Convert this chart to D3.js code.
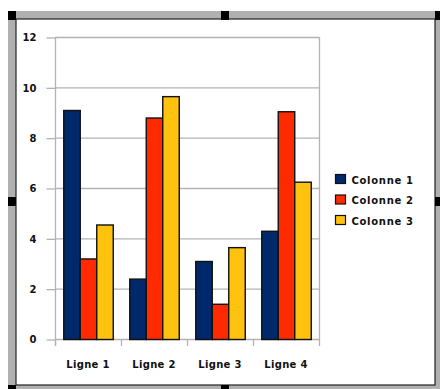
<!DOCTYPE html>
<html>
<head>
<meta charset="utf-8">
<script src="https://cdn.jsdelivr.net/npm/d3@7"></script>
<style>
  body { margin: 0; background: #fff; }
  svg text { font-family: "DejaVu Sans", sans-serif; }
</style>
</head>
<body>
<svg id="chart" width="440" height="389"></svg>
<script>
const categories = ["Ligne 1", "Ligne 2", "Ligne 3", "Ligne 4"];
const seriesNames = ["Colonne 1", "Colonne 2", "Colonne 3"];
const colonne1 = [9.1, 2.4, 3.1, 4.3];
const colonne2 = [3.2, 8.8, 1.4, 9.05];
const colonne3 = [4.55, 9.65, 3.65, 6.25];
const yTicks = [0, 2, 4, 6, 8, 10, 12];
const colors = ["#00296b", "#ff2a00", "#ffc20e"];

const seriesValues = [colonne1, colonne2, colonne3];

const svg = d3.select("#chart");

// frame (selection look)
svg.append("rect").attr("x", 8).attr("y", 11).attr("width", 440).attr("height", 385)
    .attr("fill", "#b0b0b0");
svg.append("rect").attr("x", 16).attr("y", 19).attr("width", 419).attr("height", 366)
    .attr("fill", "#fff").attr("stroke", "#222").attr("stroke-width", 1.2);
const handles = [[8, 11], [221, 11], [435, 11], [8, 197], [435, 197], [8, 385], [221, 385]];
svg.selectAll(".handle").data(handles).enter().append("rect")
    .attr("x", d => d[0]).attr("y", d => d[1])
    .attr("width", 8).attr("height", 9).attr("fill", "#000");

const x = d3.scaleBand().domain(categories).range([55, 319])
    .paddingInner(0.25).paddingOuter(0.125);
const xInner = d3.scaleBand().domain(seriesNames).range([0, x.bandwidth()]);
const y = d3.scaleLinear().domain([0, 12]).range([339, 37]);

// grid
svg.append("g").selectAll("line").data(yTicks).enter().append("line")
    .attr("x1", 55).attr("x2", 319)
    .attr("y1", d => y(d) + 0.5).attr("y2", d => y(d) + 0.5)
    .attr("stroke", "#b3b3b3").attr("stroke-width", 1.3);
svg.append("line").attr("x1", 319.5).attr("x2", 319.5).attr("y1", y(12)).attr("y2", y(0))
    .attr("stroke", "#b3b3b3").attr("stroke-width", 1.3);

// y axis
const yAxis = svg.append("g").attr("transform", "translate(55.5,0.5)")
    .call(d3.axisLeft(y).tickValues(yTicks).tickSize(9).tickPadding(10));
yAxis.selectAll("line, path").attr("stroke", "#b3b3b3").attr("stroke-width", 1.3);
yAxis.select(".domain").attr("d", `M0,${y(12)}V${y(0) + 6}`);
yAxis.selectAll("text").attr("font-size", 10).attr("font-weight", "bold").attr("fill", "#111");

// x axis ticks at category boundaries
svg.append("g").selectAll("line").data(d3.range(categories.length + 1)).enter().append("line")
    .attr("x1", i => (i < categories.length ? x(categories[i]) - x.step() * x.paddingInner() / 2 : 319) + 0.5)
    .attr("x2", i => (i < categories.length ? x(categories[i]) - x.step() * x.paddingInner() / 2 : 319) + 0.5)
    .attr("y1", y(0)).attr("y2", y(0) + 7)
    .attr("stroke", "#b3b3b3").attr("stroke-width", 1.3);

svg.append("g").selectAll("text").data(categories).enter().append("text")
    .attr("x", d => x(d) + x.bandwidth() / 2).attr("y", 368)
    .attr("text-anchor", "middle").attr("font-size", 10).attr("font-weight", "bold")
    .attr("letter-spacing", 0.3)
    .attr("fill", "#111").text(d => d);

// bars
seriesNames.forEach((s, si) => {
    svg.append("g").selectAll("rect").data(categories).enter().append("rect")
        .attr("x", (d) => x(d) + xInner(s) + 0.5)
        .attr("y", (d, i) => y(seriesValues[si][i]) + 0.5)
        .attr("width", xInner.bandwidth())
        .attr("height", (d, i) => y(0) - y(seriesValues[si][i]))
        .attr("fill", colors[si]).attr("stroke", "#111").attr("stroke-width", 1.4);
});

// legend
const legend = svg.append("g").selectAll("g").data(seriesNames).enter().append("g")
    .attr("transform", (d, i) => `translate(335.5,${174.5 + i * 20.5})`);
legend.append("rect").attr("width", 10).attr("height", 9)
    .attr("fill", (d, i) => colors[i]).attr("stroke", "#111").attr("stroke-width", 1.2);
legend.append("text").attr("x", 16).attr("y", 9).attr("font-size", 10)
    .attr("font-weight", "bold").attr("letter-spacing", 0.7)
    .attr("fill", "#111").text(d => d);
</script>
</body>
</html>
